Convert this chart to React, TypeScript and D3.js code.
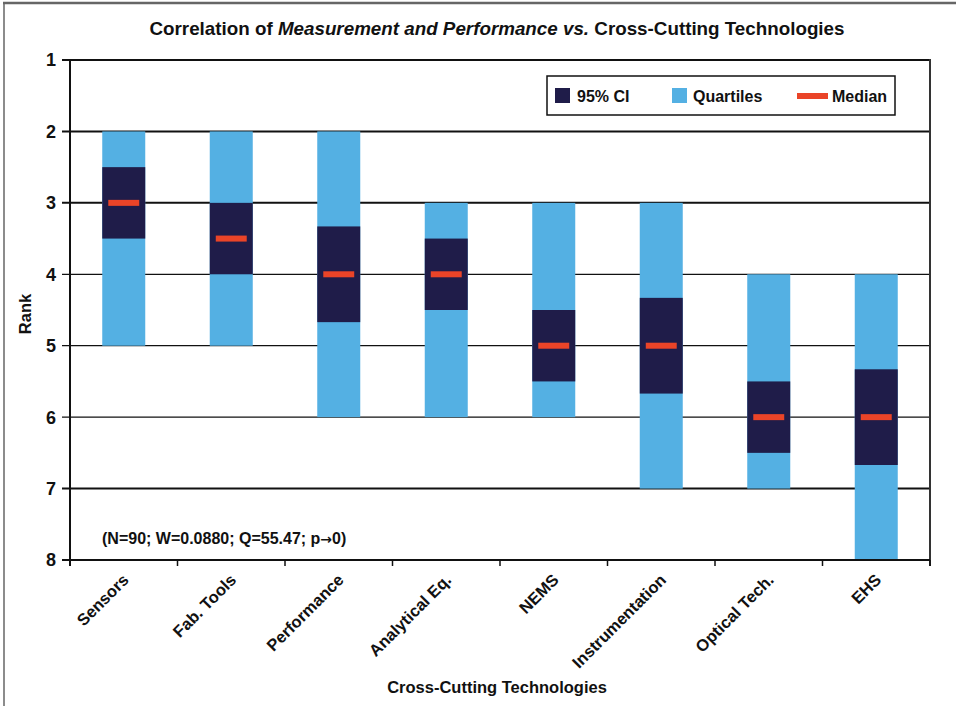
import React from "react";
import * as d3 from "d3";

const categories = ["Sensors", "Fab. Tools", "Performance", "Analytical Eq.", "NEMS", "Instrumentation", "Optical Tech.", "EHS"];
const quartileLow = [2, 2, 2, 3, 3, 3, 4, 4];
const quartileHigh = [5, 5, 6, 6, 6, 7, 7, 8];
const ciLow = [2.5, 3, 3.33, 3.5, 4.5, 4.33, 5.5, 5.33];
const ciHigh = [3.5, 4, 4.67, 4.5, 5.5, 5.67, 6.5, 6.67];
const medians = [3, 3.5, 4, 4, 5, 5, 6, 6];
const rankTicks = [1, 2, 3, 4, 5, 6, 7, 8];

const W = 956;
const H = 706;
const M = { left: 70, right: 930, top: 60, bottom: 560 };
const FONT = "'Liberation Sans', Arial, Helvetica, sans-serif";
const DARK = "#1f1c49";
const LIGHT = "#54b0e3";
const RED = "#ea4428";

export default function App() {
  const x = d3.scaleBand<string>().domain(categories).range([M.left, M.right]).paddingInner(0.6).paddingOuter(0.3);
  const y = d3.scaleLinear().domain([1, 8]).range([M.top, M.bottom]);
  const step = x.step();
  const bw = x.bandwidth();
  const medW = bw * 0.72;
  const boundaries = d3.range(categories.length + 1).map((i) => M.left + i * step);

  return (
    <svg width={W} height={H} style={{ position: "fixed", left: 0, top: 0, background: "#fff" }} fontFamily={FONT}>
      <rect x={0} y={0} width={W} height={H} fill="#fff" />
      {/* outer frame */}
      <line x1={3} x2={W} y1={3} y2={3} stroke="#666" strokeWidth={2.5} />
      <line x1={4} x2={4} y1={3} y2={H} stroke="#666" strokeWidth={1.5} />

      {/* title */}
      <text x={497} y={35} textAnchor="middle" fontSize={18.5} fontWeight="bold" fill="#111" textLength={695} lengthAdjust="spacingAndGlyphs">
        Correlation of <tspan fontStyle="italic">Measurement and Performance vs.</tspan> Cross-Cutting Technologies
      </text>

      {/* gridlines and y ticks */}
      {rankTicks.map((t) => (
        <g key={t}>
          <line
            x1={M.left - 8}
            x2={M.right}
            y1={y(t)}
            y2={y(t)}
            stroke="#111"
            strokeWidth={t === 4 || t === 5 || t === 6 ? 1.3 : 2}
          />
          <text x={56} y={y(t)} dy="0.36em" textAnchor="end" fontSize={18} fontWeight="bold" fill="#111">
            {t}
          </text>
        </g>
      ))}

      {/* bars */}
      {categories.map((c, i) => {
        const x0 = x(c)!;
        const cx = x0 + bw / 2;
        return (
          <g key={c}>
            <rect x={x0} y={y(quartileLow[i])} width={bw} height={y(quartileHigh[i]) - y(quartileLow[i])} fill={LIGHT} />
            <rect x={x0} y={y(ciLow[i])} width={bw} height={y(ciHigh[i]) - y(ciLow[i])} fill={DARK} />
            <rect x={cx - medW / 2} y={y(medians[i]) - 3} width={medW} height={6} fill={RED} />
          </g>
        );
      })}

      {/* axes */}
      <line x1={M.left} x2={M.left} y1={M.top - 1} y2={M.bottom + 6} stroke="#111" strokeWidth={2} />
      <line x1={M.right} x2={M.right} y1={M.top - 1} y2={M.bottom + 6} stroke="#333" strokeWidth={2} />
      <line x1={M.left - 8} x2={M.right} y1={M.bottom} y2={M.bottom} stroke="#111" strokeWidth={2} />
      {boundaries.map((b, i) => (
        <line key={i} x1={b} x2={b} y1={M.bottom} y2={M.bottom + 6} stroke="#111" strokeWidth={1.5} />
      ))}

      {/* x labels */}
      {categories.map((c) => {
        const cx = x(c)! + bw / 2 + 6;
        const ly = M.bottom + 21;
        return (
          <text
            key={c}
            x={cx}
            y={ly}
            textAnchor="end"
            fontSize={16.5}
            fontWeight="bold"
            fill="#111"
            transform={`rotate(-45, ${cx}, ${ly})`}
          >
            {c}
          </text>
        );
      })}

      {/* axis titles */}
      <text x={497} y={693} textAnchor="middle" fontSize={16.5} fontWeight="bold" fill="#111">
        Cross-Cutting Technologies
      </text>
      <text transform={`translate(31, 314) rotate(-90)`} textAnchor="middle" fontSize={16.5} fontWeight="bold" fill="#111">
        Rank
      </text>

      {/* annotation */}
      <text x={102} y={544} fontSize={16} fontWeight="bold" fill="#111">
        (N=90; W=0.0880; Q=55.47; p<tspan fontFamily="'DejaVu Sans', sans-serif" fontSize={14}>→</tspan>0)
      </text>

      {/* legend */}
      <rect x={547} y={76} width={348} height={39} fill="#fff" stroke="#111" strokeWidth={1.5} />
      <rect x={555} y={88} width={15} height={15} fill={DARK} />
      <text x={577} y={96} dy="0.36em" fontSize={16} fontWeight="bold" fill="#111">95% CI</text>
      <rect x={672} y={88} width={15} height={15} fill={LIGHT} />
      <text x={693} y={96} dy="0.36em" fontSize={16} fontWeight="bold" fill="#111">Quartiles</text>
      <rect x={797} y={93} width={31} height={6} fill={RED} />
      <text x={832} y={96} dy="0.36em" fontSize={16} fontWeight="bold" fill="#111">Median</text>
    </svg>
  );
}
